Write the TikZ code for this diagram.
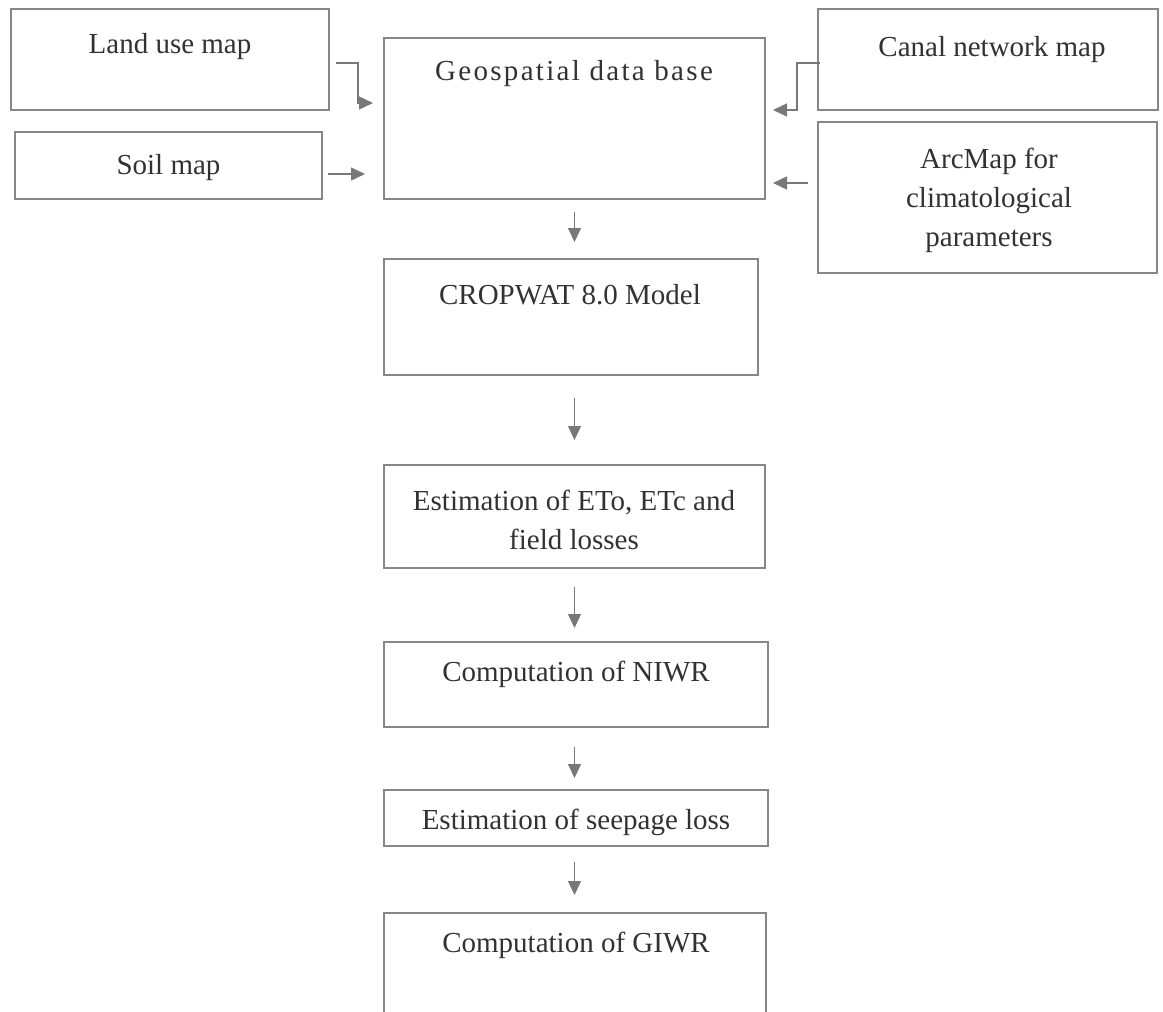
\documentclass[tikz,border=0pt]{standalone}
\usepackage{fontspec}
\setmainfont{Liberation Serif}
\usetikzlibrary{arrows.meta,calc}
\definecolor{boxgray}{RGB}{135,135,135}
\definecolor{arrgray}{RGB}{120,120,120}
\definecolor{txtgray}{RGB}{50,50,50}
\tikzset{
  box/.style={draw=boxgray, line width=1.4pt, rectangle, inner sep=0pt, outer sep=0pt},
  txt/.style={text=txtgray, inner sep=0pt, align=center, font=\fontsize{29}{39}\selectfont},
  arr/.style={draw=arrgray, line width=1.4pt, -{Triangle[length=14pt,width=13pt]}},
}
\begin{document}
\begin{tikzpicture}[x=1pt,y=-1pt]
\clip (0,0) rectangle (1163,1012);
\fill[white] (0,0) rectangle (1163,1012);
% boxes
\node[box, minimum width=318pt, minimum height=101pt] (land) at (170,59.5) {};
\node[box, minimum width=307pt, minimum height=67pt] (soil) at (168.5,165.5) {};
\node[box, minimum width=381pt, minimum height=161pt] (geo) at (574.5,118.5) {};
\node[box, minimum width=340pt, minimum height=101pt] (canal) at (988,59.5) {};
\node[box, minimum width=339pt, minimum height=151pt] (arc) at (987.5,197.5) {};
\node[box, minimum width=374pt, minimum height=116pt] (crop) at (571,317) {};
\node[box, minimum width=381pt, minimum height=103pt] (est) at (574.5,516.5) {};
\node[box, minimum width=384pt, minimum height=85pt] (niwr) at (576,684.5) {};
\node[box, minimum width=384pt, minimum height=56pt] (seep) at (576,818) {};
\node[box, minimum width=382pt, minimum height=127pt] (giwr) at (575,976.5) {};
% texts
\node[txt] (tland) at (170,47) {Land use map};
\node[txt] (tsoil) at (168.5,168) {Soil map};
\node[txt] (tgeo) at (574,74) {\addfontfeature{LetterSpace=8}Geospatial data base};
\node[txt] (tcanal) at (992,50) {Canal network map};
\node[txt] (tarc) at (989,200) {ArcMap for\\climatological\\parameters};
\node[txt] (tcrop) at (570,295) {CROPWAT 8.0 Model};
\node[txt] (test) at (574,520) {Estimation of ETo, ETc and\\field losses};
\node[txt] (tniwr) at (576,674) {Computation of NIWR};
\node[txt] (tseep) at (576,822) {Estimation of seepage loss};
\node[txt] (tgiwr) at (576,945) {Computation of GIWR};
% side arrows
\draw[arr] ($(land.east)+(7,3.5)$) -- ++(22,0) |- ($(geo.west)+(-11,-15.5)$);
\draw[arr] ($(soil.east)+(6,8.5)$) -- ($(geo.west)+(-19,55.5)$);
\draw[arr] ($(canal.west)+(2,3.5)$) -- ++(-23,0) |- ($(geo.east)+(8,-8.5)$);
\draw[arr] ($(arc.west)+(-10,-14.5)$) -- ($(geo.east)+(8,64.5)$);
% vertical arrows
\draw[arr] ($(geo.south)+(0,13)$) -- ($(crop.north -| geo.south)+(0,-17)$);
\draw[arr] ($(crop.south -| est.north)+(0,23)$) -- ($(est.north)+(0,-25)$);
\draw[arr] ($(est.south)+(0,19)$) -- ($(niwr.north -| est.south)+(0,-14)$);
\draw[arr] ($(niwr.south -| est.south)+(0,20)$) -- ($(seep.north -| est.south)+(0,-12)$);
\draw[arr] ($(seep.south -| est.south)+(0,16)$) -- ($(giwr.north -| est.south)+(0,-18)$);
\end{tikzpicture}
\end{document}
